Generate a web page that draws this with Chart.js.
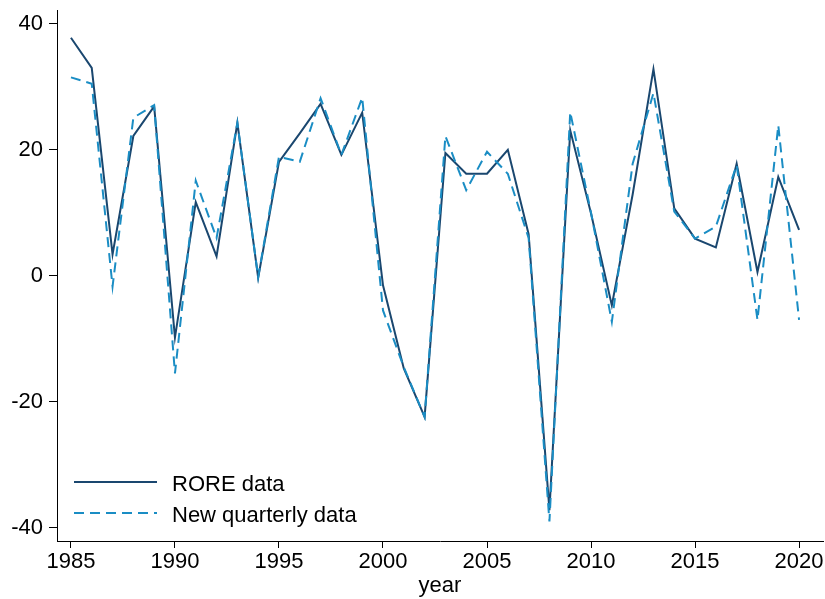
<!DOCTYPE html>
<html>
<head>
<meta charset="utf-8">
<script src="https://cdn.jsdelivr.net/npm/chart.js@4/dist/chart.umd.min.js"></script>
<style>
  html, body { margin: 0; padding: 0; background: #fff; }
  #wrap { width: 825px; height: 599px; }
</style>
</head>
<body>
<div id="wrap"><canvas id="c" width="825" height="599"></canvas></div>
<script>
const years = [1985,1986,1987,1988,1989,1990,1991,1992,1993,1994,1995,1996,1997,1998,1999,2000,2001,2002,2003,2004,2005,2006,2007,2008,2009,2010,2011,2012,2013,2014,2015,2016,2017,2018,2019,2020];
const roreData = [37.8,33.0,3.4,22.2,26.9,-9.8,11.7,3.1,24.3,-0.3,18.1,22.6,27.3,19.2,25.9,-1.5,-14.7,-22.4,19.5,16.2,16.2,20.0,6.6,-37.2,23.1,9.9,-4.7,12.9,32.8,10.7,5.9,4.5,17.8,0.6,15.7,7.3];
const quarterlyData = [31.5,30.5,-1.7,25.1,27.1,-15.5,15.1,6.0,24.3,-0.2,18.9,18.1,28.2,19.2,28.3,-5.5,-14.5,-22.4,22.2,13.6,19.7,16.2,6.0,-39.0,26.0,10.0,-7.3,17.8,29.0,10.2,5.9,7.8,17.6,-7.0,23.9,-7.0];
const xTicks = [1985,1990,1995,2000,2005,2010,2015,2020];
const yTicks = [-40,-20,0,20,40];
const seriesLabels = ["RORE data", "New quarterly data"];

const FONT = "'Liberation Sans', Arial, sans-serif";
const NAVY = '#1a476f';
const BLUE = '#1a8dc4';

const insideLegend = {
  id: 'insideLegend',
  afterDatasetsDraw(chart) {
    const ctx = chart.ctx;
    const items = chart.data.datasets;
    const x0 = 74, x1 = 157, tx = 172;
    const ys = [482, 513];
    ctx.save();
    items.forEach((ds, i) => {
      ctx.beginPath();
      ctx.strokeStyle = ds.borderColor;
      ctx.lineWidth = ds.borderWidth;
      ctx.setLineDash(ds.borderDash || []);
      ctx.moveTo(x0, ys[i]);
      ctx.lineTo(x1, ys[i]);
      ctx.stroke();
      ctx.setLineDash([]);
      ctx.fillStyle = '#000';
      ctx.font = '22px ' + FONT;
      ctx.textBaseline = 'alphabetic';
      ctx.textAlign = 'left';
      ctx.fillText(ds.label, tx, ys[i] + 8.5);
    });
    ctx.restore();
  }
};

new Chart(document.getElementById('c'), {
  type: 'line',
  data: {
    datasets: [
      {
        label: seriesLabels[0],
        data: years.map((y, i) => ({x: y, y: roreData[i]})),
        borderColor: NAVY,
        borderWidth: 2,
        pointRadius: 0,
        fill: false,
        tension: 0,
        order: 1
      },
      {
        label: seriesLabels[1],
        data: years.map((y, i) => ({x: y, y: quarterlyData[i]})),
        borderColor: BLUE,
        borderWidth: 2,
        borderDash: [10, 6],
        pointRadius: 0,
        fill: false,
        tension: 0,
        order: 0
      }
    ]
  },
  options: {
    responsive: false,
    animation: false,
    devicePixelRatio: 1,
    layout: { padding: { top: 10, right: 2, left: 0, bottom: 0 } },
    plugins: { legend: { display: false }, tooltip: { enabled: false } },
    scales: {
      x: {
        type: 'linear',
        min: 1984.33,
        max: 2021.15,
        afterBuildTicks: s => { s.ticks = xTicks.map(v => ({value: v})); },
        afterFit: s => { s.height = 58; s.paddingLeft = 0; s.paddingRight = 0; },
        ticks: { color: '#000', font: { family: FONT, size: 22 }, padding: 1, maxRotation: 0, autoSkip: false, callback: v => String(v) },
        grid: { display: true, drawOnChartArea: false, drawTicks: true, tickLength: 7, color: '#000', lineWidth: 1 },
        border: { display: true, color: '#000', width: 1 },
        title: { display: true, text: 'year', color: '#000', font: { family: FONT, size: 22 }, padding: { top: 0, bottom: 0 } }
      },
      y: {
        type: 'linear',
        min: -42.1,
        max: 42.2,
        afterBuildTicks: s => { s.ticks = yTicks.map(v => ({value: v})); },
        afterFit: s => { s.width = 57; s.paddingTop = 0; s.paddingBottom = 0; },
        ticks: { color: '#000', font: { family: FONT, size: 22 }, padding: 6, autoSkip: false, callback: v => String(v) },
        grid: { display: true, drawOnChartArea: false, drawTicks: true, tickLength: 8, color: '#000', lineWidth: 1 },
        border: { display: true, color: '#000', width: 1 }
      }
    }
  },
  plugins: [insideLegend]
});
</script>
</body>
</html>
